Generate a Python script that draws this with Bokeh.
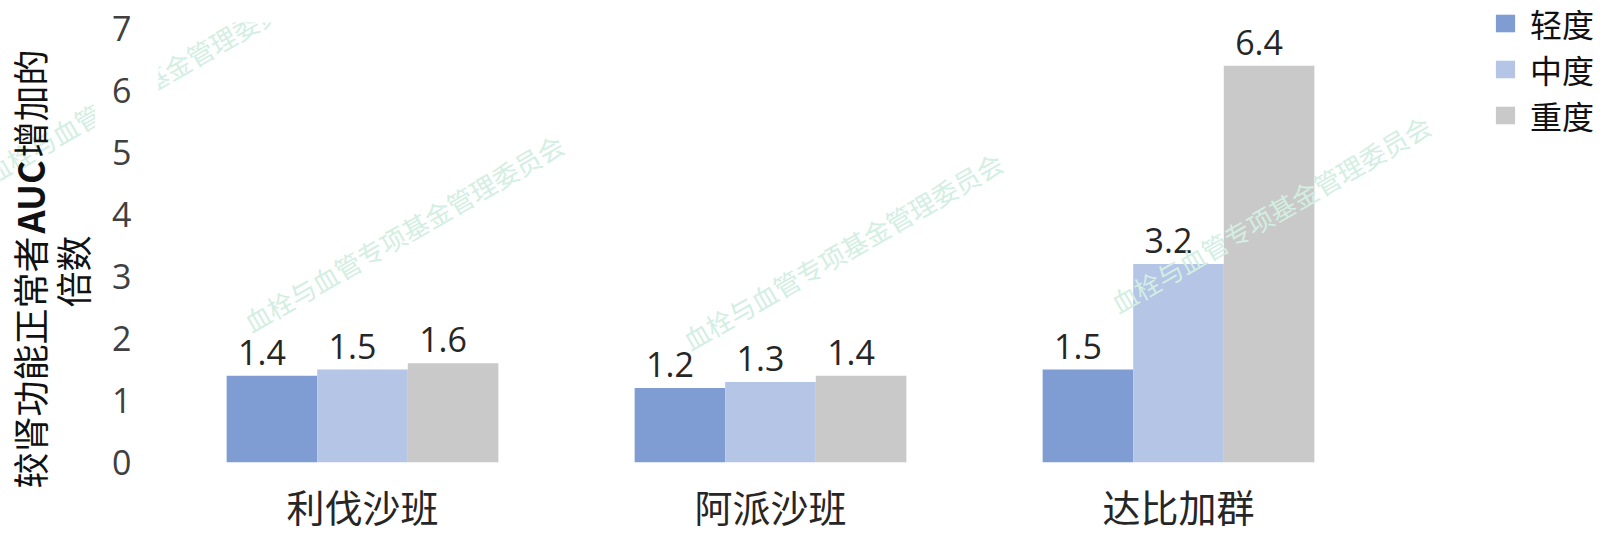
import math
from bokeh.plotting import figure
from bokeh.layouts import row
from bokeh.models import (FactorRange, Range1d, Legend, LegendItem, Label,
                          LabelSet, ColumnDataSource, FixedTicker)
from bokeh.transform import dodge
from bokeh.core.properties import value
from bokeh.embed import file_html
from bokeh.resources import INLINE

# ---------------- data ----------------
drugs = ["利伐沙班", "阿派沙班", "达比加群"]
series = ["轻度", "中度", "重度"]
mild = [1.4, 1.2, 1.5]
moderate = [1.5, 1.3, 3.2]
severe = [1.6, 1.4, 6.4]
y_ticks = [0, 1, 2, 3, 4, 5, 6, 7]
y_title_parts = ["较肾功能正常者", "AUC", "增加的"]
y_title_line2 = "倍数"
watermark_text = "血栓与血管专项基金管理委员会"

# ---------------- style / layout ----------------
colors = ["#7F9DD2", "#B4C5E6", "#C9C9C9"]
keys = ["mild", "moderate", "severe"]
bar_w = 0.222
offsets = [-bar_w, 0.0, bar_w]
wm_color = "#d3eee2"
cjk = "Noto Sans CJK SC"
H = 536
LEFT_W = 95            # y-title strip
FRAME_L, FRAME_R = 158, 1382
RIGHT_W = 1605 - FRAME_R
MAIN_W = FRAME_R - LEFT_W
wm_centers = [(143, 84), (403, 232), (842, 250), (1270, 213)]


def add_watermarks(f, x0, width):
    for cx, cy in wm_centers:
        if x0 - 200 < cx < x0 + width + 200:
            f.add_layout(Label(x=cx - x0, y=cy, x_units="canvas",
                               y_units="canvas", text=watermark_text,
                               angle=math.pi / 6, text_align="center",
                               text_baseline="middle", text_font=cjk,
                               text_font_size="26px", text_color=wm_color))


def strip(width):
    f = figure(width=width, height=H, min_border=0, title=None,
               x_range=Range1d(0, 1), y_range=Range1d(0, 1),
               x_axis_location=None, y_axis_location=None,
               output_backend="svg", toolbar_location=None)
    f.frame_align = False
    f.grid.visible = False
    f.outline_line_color = None
    f.background_fill_color = "white"
    f.border_fill_color = "white"
    return f


src = ColumnDataSource(dict(
    drug=drugs, mild=mild, moderate=moderate, severe=severe,
    mild_lbl=[f"{v:.1f}" for v in mild],
    moderate_lbl=[f"{v:.1f}" for v in moderate],
    severe_lbl=[f"{v:.1f}" for v in severe],
))

# ---------- left strip: y-axis title ----------
t = strip(LEFT_W)
add_watermarks(t, 0, LEFT_W)
starts = [488, 233, 157]
for txt, sy in zip(y_title_parts, starts):
    t.add_layout(Label(x=28, y=sy, x_units="canvas", y_units="canvas",
                       text=txt, angle=math.pi / 2,
                       text_align="left", text_baseline="middle",
                       text_font=cjk, text_font_size="36px",
                       text_font_style="bold" if txt == "AUC" else "normal",
                       text_color="#111111"))
t.add_layout(Label(x=71, y=271, x_units="canvas", y_units="canvas",
                   text=y_title_line2, angle=math.pi / 2,
                   text_align="center", text_baseline="middle",
                   text_font=cjk, text_font_size="36px", text_color="#111111"))

# ---------- main chart ----------
p = figure(width=MAIN_W, height=H, title=None,
           x_range=FactorRange(*drugs), y_range=Range1d(0, 7.097),
           output_backend="svg", toolbar_location=None,
           min_border_left=FRAME_L - LEFT_W, min_border_right=0,
           min_border_top=22, min_border_bottom=74)
p.frame_align = False
p.outline_line_color = None
p.grid.visible = False
p.background_fill_color = "white"
p.border_fill_color = "white"

renderers = []
for key, off, col in zip(keys, offsets, colors):
    r = p.vbar(x=dodge("drug", off, range=p.x_range), top=key, width=bar_w,
               fill_color=col, line_color=None, source=src)
    renderers.append(r)
    p.add_layout(LabelSet(x=dodge("drug", off, range=p.x_range), y=key,
                          text=key + "_lbl", source=src,
                          x_offset=-10, y_offset=11,
                          text_align="center", text_baseline="alphabetic",
                          text_font=value("Open Sans"), text_font_size="34px",
                          text_color="#262626"))

p.xaxis.axis_line_color = None
p.xaxis.major_tick_line_color = None
p.xaxis.minor_tick_line_color = None
p.xaxis.major_tick_out = 0
p.xaxis.major_tick_in = 0
p.xaxis.major_label_text_font = cjk
p.xaxis.major_label_text_font_size = "38px"
p.xaxis.major_label_text_color = "#262626"
p.xaxis.major_label_standoff = 15

p.yaxis.ticker = FixedTicker(ticks=y_ticks)
p.yaxis.axis_line_color = None
p.yaxis.major_tick_line_color = None
p.yaxis.minor_tick_line_color = None
p.yaxis.major_tick_out = 0
p.yaxis.major_tick_in = 0
p.yaxis.major_label_text_font = "Open Sans"
p.yaxis.major_label_text_font_size = "34px"
p.yaxis.major_label_text_color = "#404040"
p.yaxis.major_label_standoff = 27

add_watermarks(p, LEFT_W, MAIN_W)

# ---------- right strip: legend ----------
lg = strip(RIGHT_W)
add_watermarks(lg, FRAME_R, RIGHT_W)
swatches = [lg.vbar(x=[0], top=[0], bottom=[0], width=0.0001,
                    fill_color=c, line_color=None) for c in colors]
legend = Legend(
    items=[LegendItem(label=s, renderers=[r]) for s, r in zip(series, swatches)],
    location=(1493 - FRAME_R, H - 138), orientation="vertical",
    label_text_font=cjk, label_text_font_size="32px",
    label_text_color="#111111",
    glyph_width=24, glyph_height=22, label_height=46, spacing=0,
    padding=0, margin=0, label_standoff=13,
    border_line_color=None, background_fill_alpha=0)
lg.add_layout(legend)

layout = row(t, p, lg, spacing=0)
open("out.html", "w").write(file_html(layout, INLINE))
